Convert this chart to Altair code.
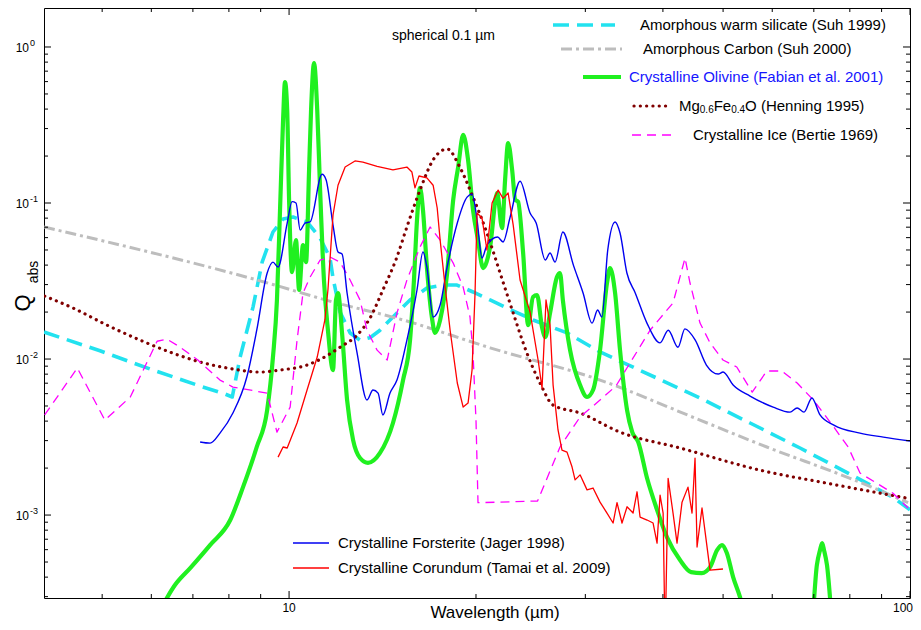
import altair as alt
import pandas as pd

FONT = "Liberation Sans, Arial, sans-serif"

# ---------------- axis ranges ----------------
X_MIN, X_MAX = 4.03, 100.0
Y_MIN, Y_MAX = 2.94e-4, 1.778

# ---------------- data (wavelength in micron, Q_abs) ----------------
sil_wl = [4.03, 4.96, 5.97, 7.19, 7.89, 8.10, 8.34, 8.75, 9.05, 9.42, 9.78, 10.15, 10.69, 11.22,
          11.64, 11.77, 12.08, 12.54, 13.01, 13.50, 14.01, 14.70, 15.66, 16.67, 17.70, 18.64,
          19.78, 21.07, 22.45, 24.71, 28.03, 31.68, 45.90, 55.26, 66.51, 80.06, 93.9, 100.0]
sil_q = [0.0149, 0.0113, 0.00863, 0.00671, 0.00596, 0.00571, 0.0103, 0.0216, 0.0418, 0.0652,
         0.0789, 0.0813, 0.0756, 0.0596, 0.0444, 0.0331, 0.0200, 0.0147, 0.0132, 0.0137, 0.0153,
         0.0186, 0.0239, 0.0285, 0.0298, 0.0298, 0.0269, 0.0239, 0.0212, 0.0178, 0.0147, 0.0111,
         0.00563, 0.00389, 0.00269, 0.00183, 0.00130, 0.00108]

carb_wl = [4.03, 9.11, 11.77, 15.26, 21.07, 31.68, 45.90, 58.8, 80.06, 99.3]
carb_q = [0.0702, 0.0312, 0.0232, 0.0178, 0.0118, 0.00733, 0.00406, 0.00273, 0.00172, 0.00120]

mgfe_wl = [4.04, 4.49, 5.09, 5.76, 6.50, 7.19, 7.95, 8.98, 9.67, 10.69, 11.55, 12.08, 12.86, 13.50,
           14.16, 14.92, 15.48, 16.25, 17.06, 17.97, 18.86, 19.78, 20.83, 21.87, 22.96, 24.16, 25.36,
           26.61, 29.42, 34.12, 42.62, 57.34, 73.5, 99.3]
mgfe_q = [0.0253, 0.0212, 0.0165, 0.0132, 0.0109, 0.00957, 0.00876, 0.00825, 0.0085, 0.00915,
          0.0106, 0.0119, 0.0142, 0.0183, 0.0277, 0.0451, 0.0702, 0.121, 0.189, 0.222, 0.168, 0.109,
          0.0642, 0.0356, 0.0197, 0.0109, 0.00702, 0.00507, 0.00451, 0.0034, 0.00269, 0.00194,
          0.0016, 0.00128]

ice_wl = [4.04, 4.56, 5.05, 5.55, 6.13, 6.36, 6.68, 7.13, 7.74, 8.12, 9.22, 9.56, 10.04, 10.30,
          10.53, 10.81, 11.22, 11.64, 12.08, 12.54, 13.01, 13.35, 13.86, 14.39, 14.92, 15.48, 16.25,
          16.87, 17.51, 18.38, 19.07, 19.56, 19.78, 20.0, 20.15, 25.13, 27.31, 29.42, 31.68, 33.6,
          38.14, 41.53, 43.42, 44.23, 45.90, 47.64, 49.98, 52.6, 55.7, 58.8, 62.2, 65.8, 69.9, 75.4,
          79.5, 83.08, 93.9, 99.3]
ice_q = [0.00438, 0.00876, 0.00406, 0.00571, 0.0130, 0.0134, 0.0119, 0.00985, 0.00733, 0.00661,
         0.00605, 0.0034, 0.00492, 0.0132, 0.0265, 0.0335, 0.0431, 0.0451, 0.0418, 0.0321, 0.0239,
         0.0153, 0.0114, 0.00986, 0.0197, 0.0321, 0.0522, 0.0702, 0.0579, 0.0412, 0.0289, 0.0186,
         0.0109, 0.00406, 0.0012, 0.00123, 0.00273, 0.00425, 0.00546, 0.00671, 0.0153, 0.0229,
         0.0444, 0.0307, 0.017, 0.0127, 0.00986, 0.00889, 0.00614, 0.00838, 0.00838, 0.00702,
         0.00546, 0.00366, 0.00273, 0.00186, 0.00138, 0.00111]

fors_wl = [7.19, 7.46, 7.74, 8.12, 8.55, 8.87, 9.22, 9.42, 9.60, 9.93, 10.11, 10.26, 10.42, 10.61,
           10.81, 11.30, 11.47, 11.77, 11.99, 12.17, 12.40, 12.87, 13.35, 13.65, 13.91, 14.16, 14.54,
           14.92, 15.48, 16.07, 16.43, 16.67, 17.06, 17.51, 17.97, 18.66, 19.35, 19.71, 20.08, 20.45,
           20.83, 21.67, 22.11, 22.70, 23.55, 24.44, 25.0, 25.86, 26.32, 26.81, 27.6, 28.7, 29.75,
           30.76, 31.4, 31.9, 32.6, 33.5, 34.12, 35.0, 36.1, 37.7, 39.58, 40.8, 42.3, 43.4, 45.1,
           47.0, 49.1, 50.0, 51.9, 55.26, 60.2, 64.09, 65.8, 67.5, 69.5, 71.63, 75.4, 83.08, 90.6,
           100.0]
fors_q = [0.00294, 0.00289, 0.00335, 0.00451, 0.00767, 0.0153, 0.0356, 0.0418, 0.0389, 0.0744,
          0.102, 0.1, 0.0671, 0.0744, 0.0756, 0.153, 0.141, 0.0722, 0.0485, 0.0471, 0.0265, 0.0109,
          0.00546, 0.00633, 0.00605, 0.00438, 0.00605, 0.00733, 0.0132, 0.0277, 0.0485, 0.0389,
          0.0186, 0.0222, 0.0389, 0.0744, 0.109, 0.114, 0.0778, 0.0444, 0.0538, 0.0605, 0.0563,
          0.0813, 0.138, 0.0863, 0.0744, 0.0431, 0.0478, 0.0418, 0.0652, 0.040, 0.0265, 0.017,
          0.0206, 0.0186, 0.05, 0.0756, 0.0642, 0.0356, 0.0265, 0.017, 0.0127, 0.0153, 0.0119,
          0.0156, 0.0132, 0.00915, 0.00801, 0.00825, 0.00681, 0.00579, 0.00492, 0.00457, 0.00485,
          0.00457, 0.00563, 0.00438, 0.00377, 0.00335, 0.00316, 0.00298]

cor_wl = [9.60, 9.78, 9.93, 10.30, 10.69, 11.10, 11.42, 11.55, 11.77, 11.99, 12.31, 12.77, 13.15,
          13.86, 14.70, 15.48, 15.77, 15.95, 16.19, 16.67, 17.06, 17.32, 17.51, 17.84, 18.17, 18.66,
          19.07, 19.42, 19.71, 19.93, 20.08, 20.45, 20.83, 21.23, 21.71, 22.11, 22.53, 22.96, 23.55,
          24.44, 25.18, 25.55, 25.93, 26.32, 26.62, 27.11, 27.51, 28.03, 28.56, 28.88, 29.42, 30.19,
          30.87, 31.68, 32.51, 33.25, 33.74, 34.37, 35.02, 35.81, 36.34, 36.75, 37.72, 38.57, 39.14,
          39.58, 40.03, 40.33, 40.78, 41.53, 42.15, 42.94, 43.90, 44.56, 45.06, 45.40, 46.24, 47.64,
          49.98]
cor_q = [0.00235, 0.00273, 0.00269, 0.00389, 0.00633, 0.0103, 0.0178, 0.0277, 0.0838, 0.130, 0.170,
         0.186, 0.183, 0.172, 0.163, 0.170, 0.158, 0.125, 0.149, 0.145, 0.130, 0.0929, 0.0579,
         0.0289, 0.0153, 0.00702, 0.00492, 0.00522, 0.0085, 0.0265, 0.0863, 0.0801, 0.05, 0.1,
         0.121, 0.107, 0.116, 0.0722, 0.0321, 0.02,
         0.00986, 0.00652, 0.0239, 0.0165, 0.00681, 0.00351, 0.00261, 0.00253, 0.00203, 0.00168,
         0.00181, 0.00145, 0.00149, 0.00121, 0.00103, 0.000889, 0.0012, 0.000889, 0.00113, 0.00103,
         0.00141, 0.000971, 0.000929, 0.000889, 0.000661, 0.00134, 0.00103, 0.00015, 0.00172,
         0.00103, 0.000661, 0.00121, 0.00151, 0.00103, 0.00232, 0.000624, 0.00111, 0.000444,
         0.000451]

oliv_wl = [6.20, 6.55, 6.93, 7.46, 8.04, 8.43, 8.87, 9.22, 9.42, 9.56, 9.67, 9.78, 9.85, 9.93, 10.0,
           10.11, 10.26, 10.38, 10.53, 10.65, 10.77, 10.85, 10.97, 11.10, 11.22, 11.38, 11.55, 11.77,
           11.90, 11.99, 12.17, 12.40, 12.68, 13.01, 13.40, 14.01, 14.70, 15.26, 15.66, 15.89, 16.07,
           16.25, 16.43, 16.67, 16.99, 17.18, 17.51, 17.97, 18.38, 18.72, 19.07, 19.42, 19.78, 20.15,
           20.53, 21.07, 21.63, 22.03, 22.28, 22.53, 22.87, 23.13, 23.38, 23.82, 24.27, 24.71, 25.08,
           25.55, 25.86, 26.32, 27.0, 27.31, 27.6, 28.35, 29.42, 30.19, 30.87, 31.68, 32.51, 32.88,
           33.5, 34.12, 35.02, 35.7, 36.5, 37.72, 39.14, 40.6, 42.62, 44.4, 46.2, 47.64, 48.9, 49.8,
           50.7, 51.9, 53.24, 55.26, 64.0, 69.5, 70.8, 71.63, 72.2, 72.7, 73.5, 74.9, 78.6]
oliv_q = [0.000246, 0.000356, 0.000457, 0.000642, 0.000929, 0.00151, 0.00273, 0.00471, 0.0103,
          0.0239, 0.0902, 0.340, 0.596, 0.395, 0.105, 0.0361, 0.0579, 0.0277, 0.0538, 0.0418, 0.163,
          0.395, 0.789, 0.395, 0.121, 0.0321, 0.0153, 0.0085, 0.0239, 0.0265, 0.0147, 0.00546,
          0.00302, 0.00232, 0.00216, 0.0025, 0.00389, 0.00733, 0.0132, 0.0321, 0.0778, 0.125,
          0.0902, 0.0389, 0.0183, 0.0147, 0.0178, 0.0356, 0.105, 0.170, 0.273, 0.189, 0.0902,
          0.0579, 0.0383, 0.0522, 0.116, 0.0691, 0.141, 0.242, 0.163, 0.105, 0.102, 0.0478, 0.0165,
          0.025, 0.0257, 0.016, 0.0138, 0.0197, 0.0335, 0.0356, 0.0239, 0.0114, 0.00681, 0.00571,
          0.00633, 0.0114, 0.0307, 0.0383, 0.0265, 0.0114, 0.00471, 0.0034, 0.00294, 0.00172,
          0.00108, 0.000722, 0.000515, 0.000431, 0.000425, 0.000464, 0.000596, 0.000642, 0.000571,
          0.0004, 0.000298, 0.00016, 0.00012, 0.000212, 0.000478, 0.000596, 0.000661, 0.000596,
          0.000478, 0.000212, 0.00009]

# ticks and tick labels
x_major = [10, 100]
x_minor = [5, 6, 7, 8, 9, 20, 30, 40, 50, 60, 70, 80, 90]
x_labels = ["10", "100"]
y_major = [0.001, 0.01, 0.1, 1.0]
y_exps = ["-3", "-2", "-1", "0"]
y_minor = [round(k * 10.0 ** e, 6) for e in (-4, -3, -2, -1) for k in range(2, 10)
           if Y_MIN <= k * 10.0 ** e <= Y_MAX]

# ---------------- layout ----------------
W, H = 866, 590
xs = alt.Scale(type="log", domain=[X_MIN, X_MAX], nice=False)
ys = alt.Scale(type="log", domain=[Y_MIN, Y_MAX], nice=False)
ONE = pd.DataFrame({"k": [0]})


def curve(wl, q, color, width, dash=None, interp="linear", cap="butt"):
    df = pd.DataFrame({"wl": wl, "q": q})
    kw = dict(color=color, strokeWidth=width, clip=True, interpolate=interp,
              strokeCap=cap, strokeJoin="round")
    if dash:
        kw["strokeDash"] = dash
    return alt.Chart(df).mark_line(**kw).encode(
        x=alt.X("wl:Q", scale=xs, axis=None),
        y=alt.Y("q:Q", scale=ys, axis=None),
    )


def hrule(x1, x2, y, color, width, dash=None, cap="butt"):
    kw = dict(color=color, strokeWidth=width, strokeCap=cap)
    if dash:
        kw["strokeDash"] = dash
    return alt.Chart(ONE).mark_rule(**kw).encode(
        x=alt.value(x1), x2=alt.value(x2), y=alt.value(y))


def label(x, y, s, size=15, color="black", align="left", angle=None, dy=0):
    kw = dict(text=s, fontSize=size, color=color, align=align, baseline="middle",
              font=FONT, dy=dy)
    if angle is not None:
        kw["angle"] = angle
    return alt.Chart(ONE).mark_text(**kw).encode(x=alt.value(x), y=alt.value(y))


def xticks(vals, length):
    df = pd.DataFrame({"v": vals})
    b = alt.Chart(df).mark_rule(color="black", strokeWidth=1).encode(
        x=alt.X("v:Q", scale=xs, axis=None), y=alt.value(H), y2=alt.value(H - length))
    t = alt.Chart(df).mark_rule(color="black", strokeWidth=1).encode(
        x=alt.X("v:Q", scale=xs, axis=None), y=alt.value(0), y2=alt.value(length))
    return [b, t]


def yticks(vals, length):
    df = pd.DataFrame({"v": vals})
    l = alt.Chart(df).mark_rule(color="black", strokeWidth=1).encode(
        y=alt.Y("v:Q", scale=ys, axis=None), x=alt.value(0), x2=alt.value(length))
    r = alt.Chart(df).mark_rule(color="black", strokeWidth=1).encode(
        y=alt.Y("v:Q", scale=ys, axis=None), x=alt.value(W), x2=alt.value(W - length))
    return [l, r]


CYAN = "#22E2EF"
GRAY = "#BDBDBD"
GREEN = "#20F020"
MAROON = "#800000"
MAGENTA = "#FF00FF"
BLUE = "#0000F0"
RED = "#FF0000"

SIL_DASH = [16, 8]
CARB_DASH = [11, 4, 3, 4]
DOT_DASH = [0.1, 6.2]
ICE_DASH = [9, 6]

layers = []
layers += [
    curve(sil_wl, sil_q, CYAN, 3.6, SIL_DASH, "linear"),
    curve(carb_wl, carb_q, GRAY, 3.0, CARB_DASH, "monotone"),
    curve(oliv_wl, oliv_q, GREEN, 4.2, None, "monotone", "round"),
    curve(mgfe_wl, mgfe_q, MAROON, 3.2, DOT_DASH, "monotone", "round"),
    curve(ice_wl, ice_q, MAGENTA, 1.3, ICE_DASH, "linear"),
    curve(fors_wl, fors_q, BLUE, 1.4, None, "monotone"),
    curve(cor_wl, cor_q, RED, 1.3, None, "linear"),
]

# ticks (inward) on all four sides
layers += xticks(x_major, 7) + xticks(x_minor, 4)
layers += yticks(y_major, 7) + yticks(y_minor, 4)

# x tick labels
xl = pd.DataFrame({"v": x_major, "t": x_labels})
layers.append(alt.Chart(xl[xl.v < 100]).mark_text(fontSize=12, font=FONT, baseline="middle",
                                                   align="center").encode(
    x=alt.X("v:Q", scale=xs, axis=None), y=alt.value(H + 10), text="t:N"))
layers.append(alt.Chart(xl[xl.v >= 100]).mark_text(fontSize=12, font=FONT, baseline="middle",
                                                    align="right", dx=3).encode(
    x=alt.X("v:Q", scale=xs, axis=None), y=alt.value(H + 10), text="t:N"))

# y tick labels 10^n
yl = pd.DataFrame({"v": y_major, "e": y_exps})
layers.append(alt.Chart(yl).mark_text(text="10", fontSize=12, font=FONT, align="right",
                                      baseline="middle", dy=1).encode(
    y=alt.Y("v:Q", scale=ys, axis=None), x=alt.value(-15)))
layers.append(alt.Chart(yl).mark_text(fontSize=9, font=FONT, align="left",
                                      baseline="middle", dy=-4).encode(
    y=alt.Y("v:Q", scale=ys, axis=None), x=alt.value(-14), text="e:N"))

# axis titles
layers.append(label(451, H + 15, "Wavelength (\u00b5m)", size=17, align="center"))
layers.append(label(-21, 295, "Q", size=22, align="center", angle=270))
layers.append(label(-10, 264, "abs", size=14, align="center", angle=270))

# annotation
layers.append(label(348, 28, "spherical 0.1 \u00b5m", size=14))

# top-right legend
layers += [
    hrule(509, 571, 17, CYAN, 3.6, SIL_DASH),
    label(596, 17, "Amorphous warm silicate (Suh 1999)"),
    hrule(517, 578, 41, GRAY, 3.0, CARB_DASH),
    label(599, 41, "Amorphous Carbon (Suh 2000)"),
    hrule(539, 577, 69, GREEN, 4.2),
    label(585, 69, "Crystalline Olivine (Fabian et al. 2001)", color="#1515FF"),
    hrule(590, 626, 98, MAROON, 3.2, DOT_DASH, "round"),
    label(635, 98, "Mg"),
    label(655.8, 98, "0.6", size=10, dy=4),
    label(669.7, 98, "Fe"),
    label(687.2, 98, "0.4", size=10, dy=4),
    label(701.1, 98, "O (Henning 1995)"),
    hrule(588, 632, 127, MAGENTA, 1.3, ICE_DASH),
    label(649, 127, "Crystalline Ice (Bertie 1969)"),
]

# bottom legend
layers += [
    hrule(249, 285, 535, BLUE, 1.4),
    label(294, 535, "Crystalline Forsterite (Jager 1998)"),
    hrule(249, 285, 560, RED, 1.3),
    label(294, 560, "Crystalline Corundum (Tamai et al. 2009)"),
]

chart = alt.layer(*layers).properties(
    width=W,
    height=H,
    autosize=alt.AutoSizeParams(type="none"),
    padding={"left": 36, "top": 0, "right": 3, "bottom": 30},
    background="white",
).configure_view(stroke="black", strokeWidth=1)

chart.save("out.html", embed_options={"renderer": "svg", "actions": False})
